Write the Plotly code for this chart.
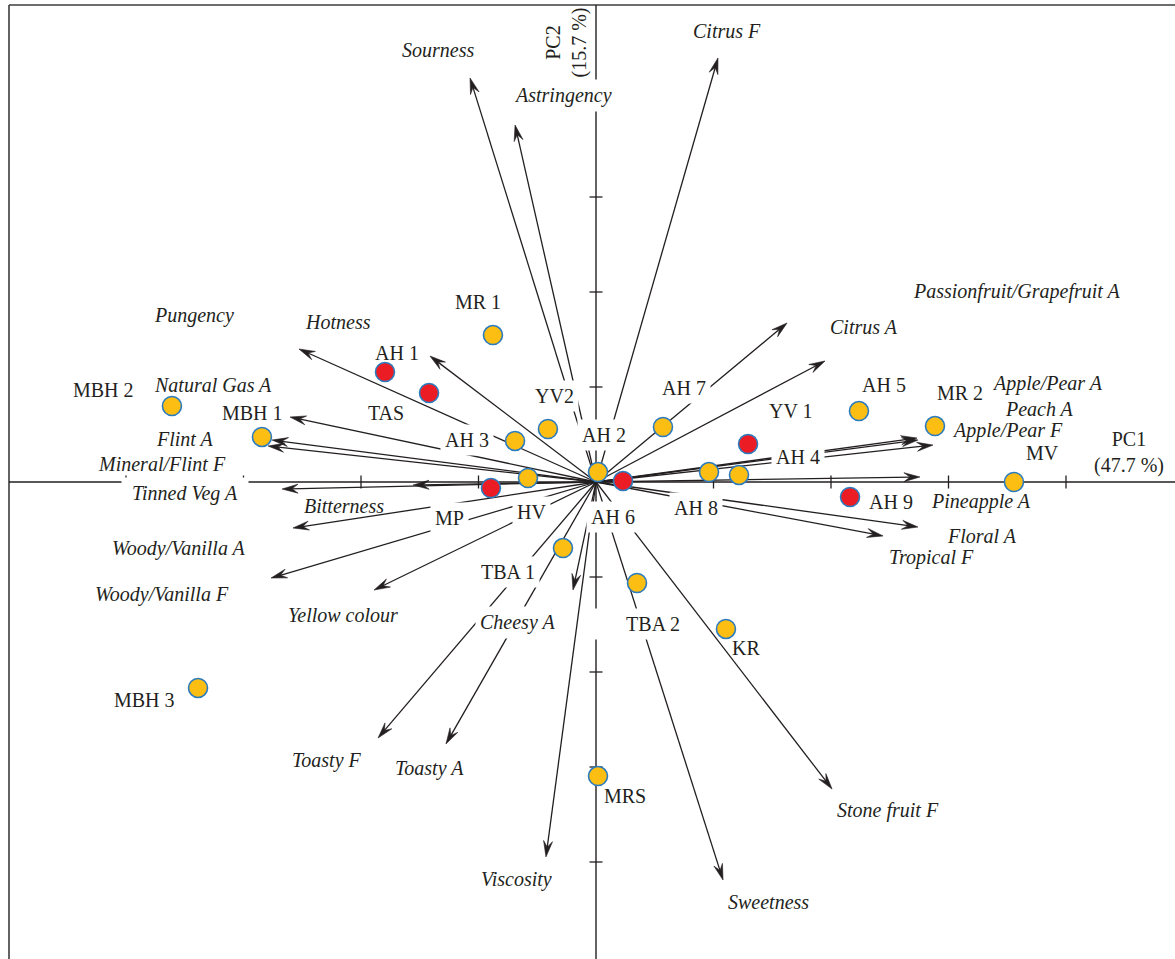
import math
import plotly.graph_objects as go

# ---- attribute loadings (PC1, PC2) ----
attributes = [
    "Sourness", "Astringency", "Citrus F", "Pungency", "Hotness", "Natural Gas A",
    "Flint A", "Mineral/Flint F", "Tinned Veg A", "Bitterness", "Woody/Vanilla A",
    "Woody/Vanilla F", "Yellow colour", "Cheesy A", "Toasty F", "Toasty A",
    "Viscosity", "Sweetness", "Stone fruit F", "Tropical F", "Floral A",
    "Pineapple A", "Apple/Pear F", "Peach A", "Apple/Pear A", "Citrus A",
    "Passionfruit/Grapefruit A",
]
attr_pc1 = [-1.072, -0.689, 1.038, -2.528, -1.413, -2.604, -2.757, -2.791, -2.672, -1.557,
            -2.579, -2.766, -1.889, -0.196, -1.855, -1.277, -0.426, 1.081, 2.009, 2.443,
            2.740, 2.757, 2.868, 2.740, 2.732, 1.626, 1.949]
attr_pc2 = [4.253, 3.758, 4.463, 1.400, 1.326, 0.684, 0.442, 0.379, -0.074, -0.032,
            -0.484, -1.011, -1.137, -1.137, -2.695, -2.758, -3.947, -4.189, -3.232, -0.568,
            -0.474, 0.053, 0.389, 0.442, 0.463, 1.674, 1.274]

# ---- sample scores (PC1, PC2) ----
samples = ["MR 1", "AH 1", "TAS", "MBH 2", "MBH 1", "YV2", "AH 3", "HV", "MP", "AH 2",
           "AH 6", "AH 7", "YV 1", "AH 8", "AH 4", "TBA 1", "TBA 2", "KR", "MRS", "MBH 3",
           "AH 5", "MR 2", "MV", "AH 9"]
sample_pc1 = [-0.877, -1.796, -1.421, -3.609, -2.843, -0.409, -0.689, -0.579, -0.894, 0.017,
              0.230, 0.570, 1.294, 0.962, 1.217, -0.281, 0.349, 1.106, 0.017, -3.387,
              2.238, 2.885, 3.557, 2.162]
sample_pc2 = [1.547, 1.158, 0.937, 0.800, 0.474, 0.558, 0.432, 0.042, -0.063, 0.105,
              0.011, 0.579, 0.400, 0.105, 0.074, -0.695, -1.063, -1.547, -3.095, -2.168,
              0.747, 0.589, 0.000, -0.158]
sample_group = [1, 2, 2, 1, 1, 1, 1, 1, 2, 1,
                2, 1, 2, 1, 1, 1, 1, 1, 1, 1,
                1, 1, 1, 2]

axis_titles = {"x": "PC1<br>(47.7 %)", "y": "PC2<br>(15.7 %)"}
tick_values = [-4, -3, -2, -1, 1, 2, 3, 4]

# ---- layout geometry ----
W, H = 1175, 959
X_RANGE = [-596 / 117.5, (W - 596) / 117.5]
Y_RANGE = [(482 - H) / 95, 482 / 95]
PX_X = W / (X_RANGE[1] - X_RANGE[0])
PX_Y = H / (Y_RANGE[1] - Y_RANGE[0])

INK = "#231F20"
FONT = "Liberation Serif"
GOLD, RED, EDGE = "#FDBE14", "#EC1C24", "#2B7BBF"

# label placement: pixel offset (right, down) from the arrow tip / point
attr_label_offset = {
    "Sourness": (-32, -28), "Astringency": (48, -29), "Citrus F": (9, -27),
    "Pungency": (-105, -34), "Hotness": (-92, -34), "Natural Gas A": (-77, -32),
    "Flint A": (-87, -1), "Mineral/Flint F": (-106, 18), "Tinned Veg A": (-97, 4),
    "Bitterness": (-69, 21), "Woody/Vanilla A": (-114, 21), "Woody/Vanilla F": (-109, 16),
    "Yellow colour": (-31, 25), "Cheesy A": (-55, 32), "Toasty F": (-51, 22),
    "Toasty A": (-16, 24), "Viscosity": (-29, 23), "Sweetness": (45, 22),
    "Stone fruit F": (56, 21), "Tropical F": (48, 22), "Floral A": (64, 9),
    "Pineapple A": (61, 25), "Apple/Pear F": (75, -15), "Peach A": (122, -31),
    "Apple/Pear A": (130, -55), "Citrus A": (77, 4), "Passionfruit/Grapefruit A": (192, -69),
}
sample_label_offset = {
    "MR 1": (-15, -33), "AH 1": (12, -19), "TAS": (-43, 20), "MBH 2": (-68, -16),
    "MBH 1": (-9, -24), "YV2": (7, -33), "AH 3": (-48, -1), "HV": (4, 34),
    "MP": (-41, 30), "AH 2": (6, -37), "AH 6": (-10, 36), "AH 7": (21, -39),
    "YV 1": (43, -33), "AH 8": (-13, 36), "AH 4": (59, -18), "TBA 1": (-55, 24),
    "TBA 2": (1, 41), "KR": (20, 19), "MRS": (27, 20), "MBH 3": (-54, 12),
    "AH 5": (25, -26), "MR 2": (25, -33), "MV": (29, -29), "AH 9": (41, 5),
}
# labels that sit on top of lines and mask them with a white box
masked_labels = {"Astringency", "Tinned Veg A", "Cheesy A", "YV2", "AH 2", "AH 3", "AH 7",
                 "AH 4", "AH 8", "AH 6", "HV", "MP", "TBA 1", "TBA 2"}
label_width = {"TBA 2": (84, "right"), "Tinned Veg A": (118, "center")}

fig = go.Figure()

# ---- arrows: shafts and stealth heads built in pixel space ----
HEAD_LEN, HEAD_W, NOTCH = 16.0, 9.0, 0.62
shaft_x, shaft_y, head_x, head_y = [], [], [], []
for ax_, ay_ in zip(attr_pc1, attr_pc2):
    px, py = ax_ * PX_X, ay_ * PX_Y
    L = math.hypot(px, py)
    ux, uy = px / L, py / L
    nx, ny = -uy, ux

    def to_data(dx, dy):
        return ax_ + dx / PX_X, ay_ + dy / PX_Y

    sx, sy = to_data(-ux * HEAD_LEN * 0.5, -uy * HEAD_LEN * 0.5)
    shaft_x += [0, sx, None]
    shaft_y += [0, sy, None]
    pts = [
        (0, 0),
        (-ux * HEAD_LEN + nx * HEAD_W / 2, -uy * HEAD_LEN + ny * HEAD_W / 2),
        (-ux * HEAD_LEN * NOTCH, -uy * HEAD_LEN * NOTCH),
        (-ux * HEAD_LEN - nx * HEAD_W / 2, -uy * HEAD_LEN - ny * HEAD_W / 2),
        (0, 0),
    ]
    for dx, dy in pts:
        hx, hy = to_data(dx, dy)
        head_x.append(hx)
        head_y.append(hy)
    head_x.append(None)
    head_y.append(None)

fig.add_trace(go.Scatter(x=shaft_x, y=shaft_y, mode="lines",
                         line=dict(color=INK, width=1.3), hoverinfo="skip"))
fig.add_trace(go.Scatter(x=head_x, y=head_y, mode="lines", fill="toself",
                         fillcolor=INK, line=dict(color=INK, width=0.6), hoverinfo="skip"))

# ---- sample points ----
for grp, colour in ((1, GOLD), (2, RED)):
    idx = [i for i, g in enumerate(sample_group) if g == grp]
    fig.add_trace(go.Scatter(
        x=[sample_pc1[i] for i in idx], y=[sample_pc2[i] for i in idx],
        mode="markers", text=[samples[i] for i in idx], hoverinfo="text",
        marker=dict(size=19, color=colour, line=dict(color=EDGE, width=1.6)),
    ))

# ---- frame, axes and ticks ----
shapes = [
    dict(type="line", xref="paper", yref="paper", x0=9 / W, x1=1, y0=1 - 5 / H, y1=1 - 5 / H,
         line=dict(color="#3C3C3C", width=1.6)),
    dict(type="line", xref="paper", yref="paper", x0=9 / W, x1=9 / W, y0=0, y1=1 - 5 / H,
         line=dict(color="#3C3C3C", width=1.6)),
    dict(type="line", xref="paper", yref="y", x0=9 / W, x1=1, y0=0, y1=0,
         line=dict(color=INK, width=1.4)),
    dict(type="line", xref="x", yref="paper", x0=0, x1=0, y0=0, y1=1 - 5 / H,
         line=dict(color=INK, width=1.4)),
]
TICK = 6.5
for t in tick_values:
    shapes.append(dict(type="line", xref="x", yref="y", x0=t, x1=t,
                       y0=-TICK / PX_Y, y1=TICK / PX_Y, line=dict(color=INK, width=1.3)))
    shapes.append(dict(type="line", xref="x", yref="y", x0=-TICK / PX_X, x1=TICK / PX_X,
                       y0=t, y1=t, line=dict(color=INK, width=1.3)))
for s in shapes:
    s["layer"] = "below"

# ---- labels ----
annotations = []


def add_label(name, x, y, off, italic):
    dx, dy = off
    ann = dict(x=x, y=y, xref="x", yref="y", showarrow=False,
               text=f"<i>{name}</i>" if italic else name,
               xanchor="center", yanchor="middle", xshift=dx, yshift=-dy,
               font=dict(family=FONT, size=20, color=INK))
    if name in masked_labels:
        ann.update(bgcolor="white", borderpad=4)
    if name in label_width:
        w, a = label_width[name]
        ann.update(width=w, align=a)
    annotations.append(ann)


for n, x, y in zip(attributes, attr_pc1, attr_pc2):
    add_label(n, x, y, attr_label_offset[n], True)
for n, x, y in zip(samples, sample_pc1, sample_pc2):
    add_label(n, x, y, sample_label_offset[n], False)

annotations.append(dict(x=(1129 - 596) / PX_X, y=(482 - 452) / PX_Y, xref="x", yref="y",
                        showarrow=False, text=axis_titles["x"], align="center",
                        font=dict(family=FONT, size=20, color=INK)))
annotations.append(dict(x=0, y=Y_RANGE[1], xref="x", yref="y", showarrow=False,
                        text=axis_titles["y"], textangle=-90, align="center",
                        xanchor="right", yanchor="top", xshift=-4, yshift=-6,
                        font=dict(family=FONT, size=20, color=INK)))

fig.update_layout(
    width=W, height=H, margin=dict(l=0, r=0, t=0, b=0),
    paper_bgcolor="white", plot_bgcolor="white", showlegend=False,
    xaxis=dict(range=X_RANGE, visible=False, fixedrange=True),
    yaxis=dict(range=Y_RANGE, visible=False, fixedrange=True),
    shapes=shapes, annotations=annotations,
)

fig.write_html("out.html")
